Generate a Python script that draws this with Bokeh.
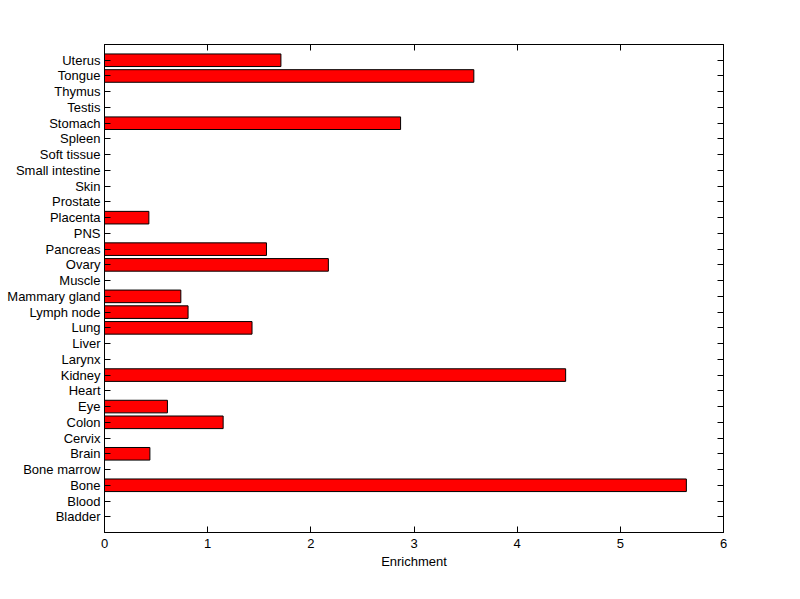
from bokeh.plotting import figure
from bokeh.models import FixedTicker, LinearAxis, Range1d
from bokeh.embed import file_html
from bokeh.resources import INLINE

tissues = ["Bladder", "Blood", "Bone", "Bone marrow", "Brain", "Cervix", "Colon", "Eye",
           "Heart", "Kidney", "Larynx", "Liver", "Lung", "Lymph node", "Mammary gland",
           "Muscle", "Ovary", "Pancreas", "PNS", "Placenta", "Prostate", "Skin",
           "Small intestine", "Soft tissue", "Spleen", "Stomach", "Testis", "Thymus",
           "Tongue", "Uterus"]
enrichment = [0, 0, 5.64, 0, 0.44, 0, 1.15, 0.61,
              0, 4.47, 0, 0, 1.43, 0.81, 0.74,
              0, 2.17, 1.57, 0, 0.43, 0, 0,
              0, 0, 0, 2.87, 0, 0,
              3.58, 1.71]
x_ticks = [0, 1, 2, 3, 4, 5, 6]

positions = list(range(1, len(tissues) + 1))
FONT = "Liberation Sans"

p = figure(width=792, height=591, output_backend="svg", toolbar_location=None,
           x_range=Range1d(0, 6), y_range=Range1d(0, len(tissues) + 1),
           min_border_left=104, min_border_right=69, min_border_top=44, min_border_bottom=59)
p.xgrid.visible = False
p.ygrid.visible = False
p.outline_line_color = "black"
p.outline_line_width = 1
p.background_fill_color = "white"
p.border_fill_color = "white"

ys = [y for y, v in zip(positions, enrichment) if v > 0]
vs = [v for v in enrichment if v > 0]
p.hbar(y=ys, left=0, right=vs, height=0.8, fill_color="#ff0000", line_color="black", line_width=1)

overrides = {pos: name for pos, name in zip(positions, tissues)}

def style(ax):
    ax.axis_line_color = "black"
    ax.major_tick_line_color = "black"
    ax.minor_tick_line_color = None
    ax.major_tick_in = 6
    ax.major_tick_out = 0
    ax.major_label_text_font = FONT
    ax.major_label_text_font_size = "13px"
    ax.major_label_text_color = "black"
    ax.axis_label_text_font = FONT
    ax.axis_label_text_font_size = "13px"
    ax.axis_label_text_font_style = "normal"
    ax.axis_label_text_color = "black"

ya = p.yaxis[0]
ya.ticker = FixedTicker(ticks=positions)
ya.major_label_overrides = overrides
style(ya)
ya.major_label_standoff = 4

xa = p.xaxis[0]
xa.ticker = FixedTicker(ticks=x_ticks)
xa.axis_label = "Enrichment"
style(xa)
xa.major_label_standoff = 6
xa.axis_label_standoff = 3

ra = LinearAxis(ticker=FixedTicker(ticks=positions))
style(ra)
ra.major_label_text_color = None
p.add_layout(ra, "right")

ta = LinearAxis(ticker=FixedTicker(ticks=x_ticks))
style(ta)
ta.major_label_text_color = None
p.add_layout(ta, "above")

open("out.html", "w").write(file_html(p, INLINE))
